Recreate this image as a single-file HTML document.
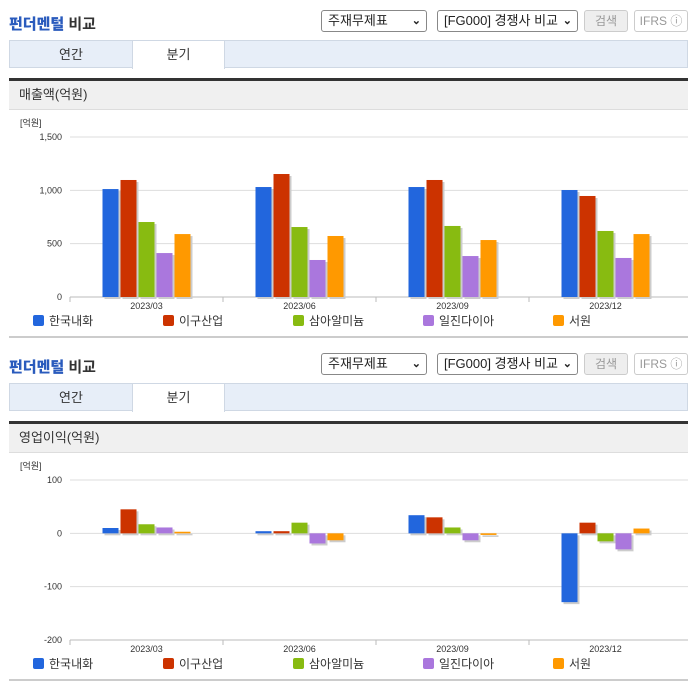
<!DOCTYPE html>
<html><head><meta charset="utf-8">
<style>
body{margin:0;width:696px;height:684px;background:#fff;font-family:"Liberation Sans","Noto Sans CJK KR",sans-serif;position:relative;overflow:hidden}
.sec{position:absolute;left:0;width:696px;height:343px}
.title{position:absolute;left:9px;top:13px;font-size:15px;font-weight:bold;color:#333}
.title b{color:#2a5bbd}
.sel{position:absolute;top:10px;height:22px;border:1px solid #888;border-radius:3px;font-size:13px;line-height:20px;padding-left:6px;box-sizing:border-box;background:#fff;color:#222}
.sel i{position:absolute;right:5px;top:0;font-style:normal;font-size:11px;font-weight:bold}
.btn{position:absolute;top:10px;height:22px;border:1px solid #ccc;border-radius:3px;font-size:12px;line-height:20px;text-align:center;box-sizing:border-box;color:#999}
.tabs{position:absolute;left:9px;top:40px;width:679px;height:28px;background:#e7eef8;border:1px solid #cfd8e4;box-sizing:border-box}
.tab{position:absolute;top:0;height:28px;line-height:27px;font-size:13px;text-align:center;color:#333}
.hdr{position:absolute;left:9px;top:78px;width:679px;height:32px;background:#f0f0f0;border-top:3px solid #333;border-bottom:1px solid #ddd;box-sizing:border-box;font-size:13px;line-height:28px;padding-left:10px;color:#333}
svg{position:absolute;left:0;top:110px}
.bot{position:absolute;left:9px;top:336px;width:679px;height:2px;background:#ccc}
</style></head><body>
<div id="root"></div>
<script>
const categories=["2023/03","2023/06","2023/09","2023/12"];
const seriesNames=["한국내화","이구산업","삼아알미늄","일진다이아","서원"];
const colors=["#2266dd","#cc3300","#88bb11","#aa77dd","#ff9900"];
const sales0=[1012,1031,1031,1003];
const sales1=[1097,1153,1097,947];
const sales2=[703,656,666,619];
const sales3=[412,347,384,366];
const sales4=[590,572,534,590];
const op0=[10,4,34,-129];
const op1=[45,4,30,20];
const op2=[17,20,11,-15];
const op3=[11,-19,-13,-30];
const op4=[3,-13,-3,9];
const salesTicks=[0,500,1000,1500];
const salesTickLabels=["0","500","1,000","1,500"];
const opTicks=[-200,-100,0,100];
const opTickLabels=["-200","-100","0","100"];
const NS="http://www.w3.org/2000/svg";
const root=document.getElementById('root');
function mk(tag,attrs,parent){const e=document.createElementNS(NS,tag);for(const k in attrs)e.setAttribute(k,attrs[k]);parent.appendChild(e);return e;}
function section(top,label,series,ticks,tickLabels,min,max){
  const s=document.createElement('div');s.className='sec';s.style.top=top+'px';
  
  s.innerHTML=`<div class="title"><b>펀더멘털</b> 비교</div>
<div class="sel" style="left:321px;width:106px">주재무제표<i>&#8964;</i></div>
<div class="sel" style="left:437px;width:141px">[FG000] 경쟁사 비교<i>&#8964;</i></div>
<div class="btn" style="left:584px;width:44px;background:#eee">검색</div>
<div class="btn" style="left:634px;width:54px">IFRS ⓘ</div>
<div class="tabs"><div class="tab" style="left:0;width:122px">연간</div><div class="tab" style="left:122px;width:91px;background:#fff;height:28px;border-left:1px solid #cfd8e4;border-right:1px solid #cfd8e4">분기</div></div>
<div class="hdr">${label}</div><div class="bot"></div>`;
  root.appendChild(s);
  const svg=document.createElementNS(NS,'svg');svg.setAttribute('width',696);svg.setAttribute('height',226);
  s.appendChild(svg);
  const y0=27,y1=187,x0=70,x1=688;
  const y=v=>y1-(v-min)/(max-min)*(y1-y0);
  const gw=153;
  const t=mk('text',{x:20,y:16,'font-size':9,fill:'#333'},svg);t.textContent='[억원]';
  
  ticks.forEach((v,i)=>{
    const l=mk('line',{x1:x0,x2:x1,y1:y(v),y2:y(v),stroke:'#ddd'},svg);
    
    const tx=mk('text',{x:62,y:y(v)+3,'font-size':9,fill:'#333','text-anchor':'end'},svg);tx.textContent=tickLabels[i];
    
  });
  const ax=mk('line',{x1:x0,x2:x1,y1:y1,y2:y1,stroke:'#bbb'},svg);
  
  categories.forEach((c,ci)=>{
    const cx=x0+gw*ci+gw/2;
    const tk=mk('line',{x1:x0+gw*ci,x2:x0+gw*ci,y1:y1,y2:y1+5,stroke:'#bbb'},svg);
    
    const tx=mk('text',{x:cx,y:y1+12,'font-size':9,fill:'#333','text-anchor':'middle'},svg);tx.textContent=c;
    
    series.forEach((arr,si)=>{
      const v=arr[ci];const bx=cx-44+si*18;
      const top=Math.min(y(v),y(0)),h=Math.max(1,Math.abs(y(v)-y(0)));
      const sh=mk('rect',{x:bx+2,y:top+2,width:16,height:h,fill:'#ccc'},svg);
      
      const r=mk('rect',{x:bx,y:top,width:16,height:h,fill:colors[si]},svg);
      
    });
  });
  seriesNames.forEach((n,i)=>{
    const lx=33+i*130;
    const r=mk('rect',{x:lx,y:205,width:11,height:11,rx:2,fill:colors[i]},svg);
    
    const tx=mk('text',{x:lx+16,y:215,'font-size':12,fill:'#333'},svg);tx.textContent=n;
    
  });
}
section(0,'매출액(억원)',[sales0,sales1,sales2,sales3,sales4],salesTicks,salesTickLabels,0,1500);
section(343,'영업이익(억원)',[op0,op1,op2,op3,op4],opTicks,opTickLabels,-200,100);
</script>
</body></html>
